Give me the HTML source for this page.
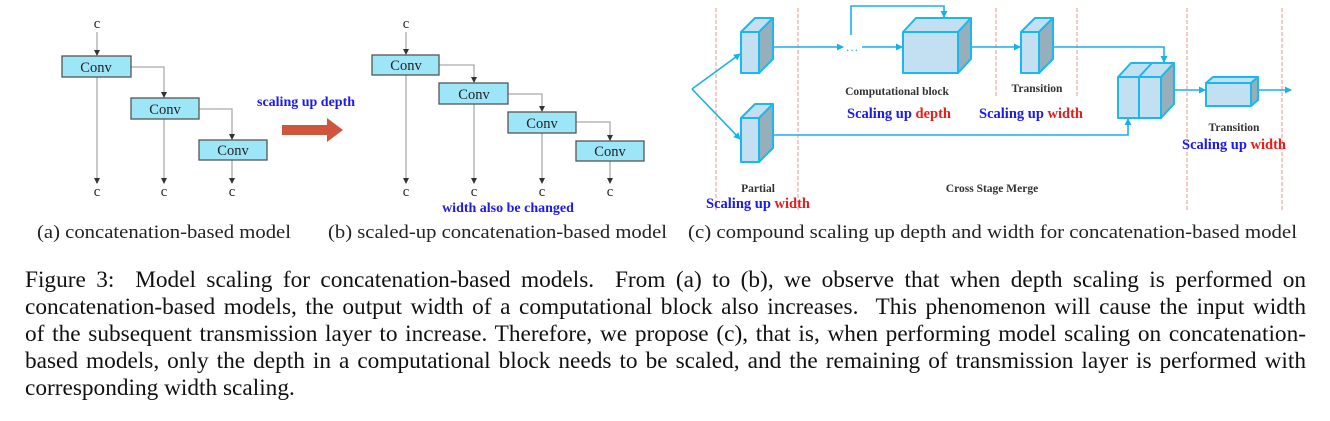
<!DOCTYPE html>
<html><head><meta charset="utf-8"><style>
html,body{margin:0;padding:0;background:#fff;}
body{width:1330px;height:421px;position:relative;overflow:hidden;font-family:"Liberation Serif",serif;}
.ln{position:absolute;left:25px;width:1281px;font-size:23.3px;line-height:27px;color:#111;text-align:justify;text-align-last:justify;white-space:nowrap;}
.ln.last{text-align-last:left;}
</style></head><body>
<svg width="1330" height="421" style="position:absolute;left:0;top:0" font-family="Liberation Serif, serif">
<defs>
<marker id="ag" markerWidth="6" markerHeight="6" refX="5" refY="3" orient="auto" markerUnits="userSpaceOnUse"><path d="M0,0 L6,3 L0,6 z" fill="#333"/></marker>
<marker id="ab" markerWidth="7" markerHeight="7" refX="6" refY="3.5" orient="auto" markerUnits="userSpaceOnUse"><path d="M0,0 L7,3.5 L0,7 z" fill="#1ab0ea"/></marker>
</defs>
<g stroke="#aaa" stroke-width="1.3" fill="none">
<path d="M97,32 V55" marker-end="url(#ag)"/>
<path d="M97,77 V183" marker-end="url(#ag)"/>
<path d="M131,67 H164 V97" marker-end="url(#ag)"/>
<path d="M164,119 V183" marker-end="url(#ag)"/>
<path d="M199,109 H232 V139" marker-end="url(#ag)"/>
<path d="M232,160 V183" marker-end="url(#ag)"/>
</g>
<g fill="#9de6f8" stroke="#555" stroke-width="1.3">
<rect x="62" y="56" width="69" height="21"/><rect x="131" y="98" width="68" height="21"/><rect x="199" y="140" width="68" height="20"/>
</g>
<g font-size="14.5" fill="#222" text-anchor="middle">
<text x="96" y="72">Conv</text><text x="165" y="114">Conv</text><text x="233" y="155">Conv</text>
<text x="97" y="28">c</text><text x="97" y="196">c</text><text x="164" y="196">c</text><text x="232" y="196">c</text>
</g>
<text x="257" y="106" font-size="14" font-weight="bold" fill="#1a1aee">scaling up depth</text>
<path d="M282,125 H327 V118 L343,130 L327,142 V135 H282 z" fill="#cf553d"/>
<g stroke="#aaa" stroke-width="1.3" fill="none">
<path d="M406,32 V54" marker-end="url(#ag)"/>
<path d="M406,75 V183" marker-end="url(#ag)"/>
<path d="M439,65 H474 V82" marker-end="url(#ag)"/>
<path d="M474,104 V183" marker-end="url(#ag)"/>
<path d="M508,94 H542 V111" marker-end="url(#ag)"/>
<path d="M542,133 V183" marker-end="url(#ag)"/>
<path d="M576,122 H610 V140" marker-end="url(#ag)"/>
<path d="M610,161 V183" marker-end="url(#ag)"/>
</g>
<g fill="#9de6f8" stroke="#555" stroke-width="1.3">
<rect x="372" y="55" width="67" height="20"/><rect x="439" y="83" width="69" height="21"/><rect x="508" y="112" width="68" height="21"/><rect x="576" y="141" width="68" height="20"/>
</g>
<g font-size="14.5" fill="#222" text-anchor="middle">
<text x="406" y="70">Conv</text><text x="474" y="99">Conv</text><text x="542" y="128">Conv</text><text x="610" y="156">Conv</text>
<text x="406" y="28">c</text><text x="406" y="196">c</text><text x="474" y="196">c</text><text x="542" y="196">c</text><text x="610" y="196">c</text>
</g>
<text x="508" y="212" font-size="14" font-weight="bold" fill="#1a1aee" text-anchor="middle">width also be changed</text>
<g font-size="19" fill="#222">
<text x="37" y="238" textLength="254" lengthAdjust="spacingAndGlyphs">(a) concatenation-based model</text>
<text x="328" y="238" textLength="339" lengthAdjust="spacingAndGlyphs">(b) scaled-up concatenation-based model</text>
<text x="688" y="238" textLength="609" lengthAdjust="spacingAndGlyphs">(c) compound scaling up depth and width for concatenation-based model</text>
</g>
<g stroke="#f0b8b0" stroke-width="1.5" stroke-dasharray="4,2">
<path d="M716,8 V212"/><path d="M798,8 V212"/><path d="M996,8 V98"/><path d="M1077,8 V98"/><path d="M1187,8 V212"/><path d="M1282,8 V212"/>
</g>
<g stroke="#1ab0ea" stroke-width="1.6" fill="none">
<path d="M692,89 L740,54" marker-end="url(#ab)"/>
<path d="M692,89 L740,139" marker-end="url(#ab)"/>
<path d="M766,47 H843" marker-end="url(#ab)"/>
<path d="M862,47 H902" marker-end="url(#ab)"/>
<path d="M851,35 V6 H944 V17" marker-end="url(#ab)"/>
<path d="M965,47 H1020" marker-end="url(#ab)"/>
<path d="M1046,47 H1164 V62" marker-end="url(#ab)"/>
<path d="M766,135 H1128 V119" marker-end="url(#ab)"/>
<path d="M1168,90 H1205" marker-end="url(#ab)"/>
<path d="M1258,90 H1291" marker-end="url(#ab)"/>
</g>
<text x="852" y="51" font-size="13" fill="#1ab0ea" text-anchor="middle">…</text>
<g stroke="#1ab8ee" stroke-width="2" stroke-linejoin="round">
<g><polygon points="741,32 755,18 773,18 759,32" fill="#c3e0f2"/><polygon points="759,32 773,18 773,59 759,73" fill="#97aebb"/><rect x="741" y="32" width="18" height="41" fill="#c3e0f2"/></g>
<g><polygon points="741,118 755,104 773,104 759,118" fill="#c3e0f2"/><polygon points="759,118 773,104 773,148 759,162" fill="#97aebb"/><rect x="741" y="118" width="18" height="44" fill="#c3e0f2"/></g>
<g><polygon points="903,32 916,18 971,18 958,32" fill="#c3e0f2"/><polygon points="958,32 971,18 971,59 958,73" fill="#97aebb"/><rect x="903" y="32" width="55" height="41" fill="#c3e0f2"/></g>
<g><polygon points="1021,32 1035,18 1053,18 1039,32" fill="#c3e0f2"/><polygon points="1039,32 1053,18 1053,59 1039,73" fill="#97aebb"/><rect x="1021" y="32" width="18" height="41" fill="#c3e0f2"/></g>
<g><polygon points="1118,77 1131,63 1174,63 1161,77" fill="#c3e0f2"/><line x1="1139" y1="77" x2="1152" y2="63"/><polygon points="1161,77 1174,63 1174,104 1161,118" fill="#97aebb"/><rect x="1118" y="77" width="21" height="41" fill="#c3e0f2"/><rect x="1139" y="77" width="22" height="41" fill="#c3e0f2"/></g>
<g><polygon points="1206,83 1213,77 1258,77 1251,83" fill="#c3e0f2"/><polygon points="1251,83 1258,77 1258,100 1251,106" fill="#97aebb"/><rect x="1206" y="83" width="45" height="23" fill="#c3e0f2"/></g>
</g>
<g font-size="11.5" font-weight="bold" fill="#333" text-anchor="middle">
<text x="897" y="95">Computational block</text>
<text x="1037" y="92">Transition</text>
<text x="1234" y="131">Transition</text>
<text x="758" y="192">Partial</text>
<text x="992" y="192">Cross Stage Merge</text>
</g>
<g font-size="14.5" font-weight="bold" text-anchor="middle">
<text x="899" y="118"><tspan fill="#1a1aee">Scaling up </tspan><tspan fill="#ee1a1a">depth</tspan></text>
<text x="1031" y="118"><tspan fill="#1a1aee">Scaling up </tspan><tspan fill="#ee1a1a">width</tspan></text>
<text x="1234" y="149"><tspan fill="#1a1aee">Scaling up </tspan><tspan fill="#ee1a1a">width</tspan></text>
<text x="758" y="208"><tspan fill="#1a1aee">Scaling up </tspan><tspan fill="#ee1a1a">width</tspan></text>
</g>
</svg>
<div class="ln" style="top:267px">Figure 3: &nbsp;Model scaling for concatenation-based models. &nbsp;From (a) to (b), we observe that when depth scaling is performed on</div>
<div class="ln" style="top:294px">concatenation-based models, the output width of a computational block also increases. &nbsp;This phenomenon will cause the input width</div>
<div class="ln" style="top:321px">of the subsequent transmission layer to increase. Therefore, we propose (c), that is, when performing model scaling on concatenation-</div>
<div class="ln" style="top:348px">based models, only the depth in a computational block needs to be scaled, and the remaining of transmission layer is performed with</div>
<div class="ln last" style="top:375px">corresponding width scaling.</div>
</body></html>
